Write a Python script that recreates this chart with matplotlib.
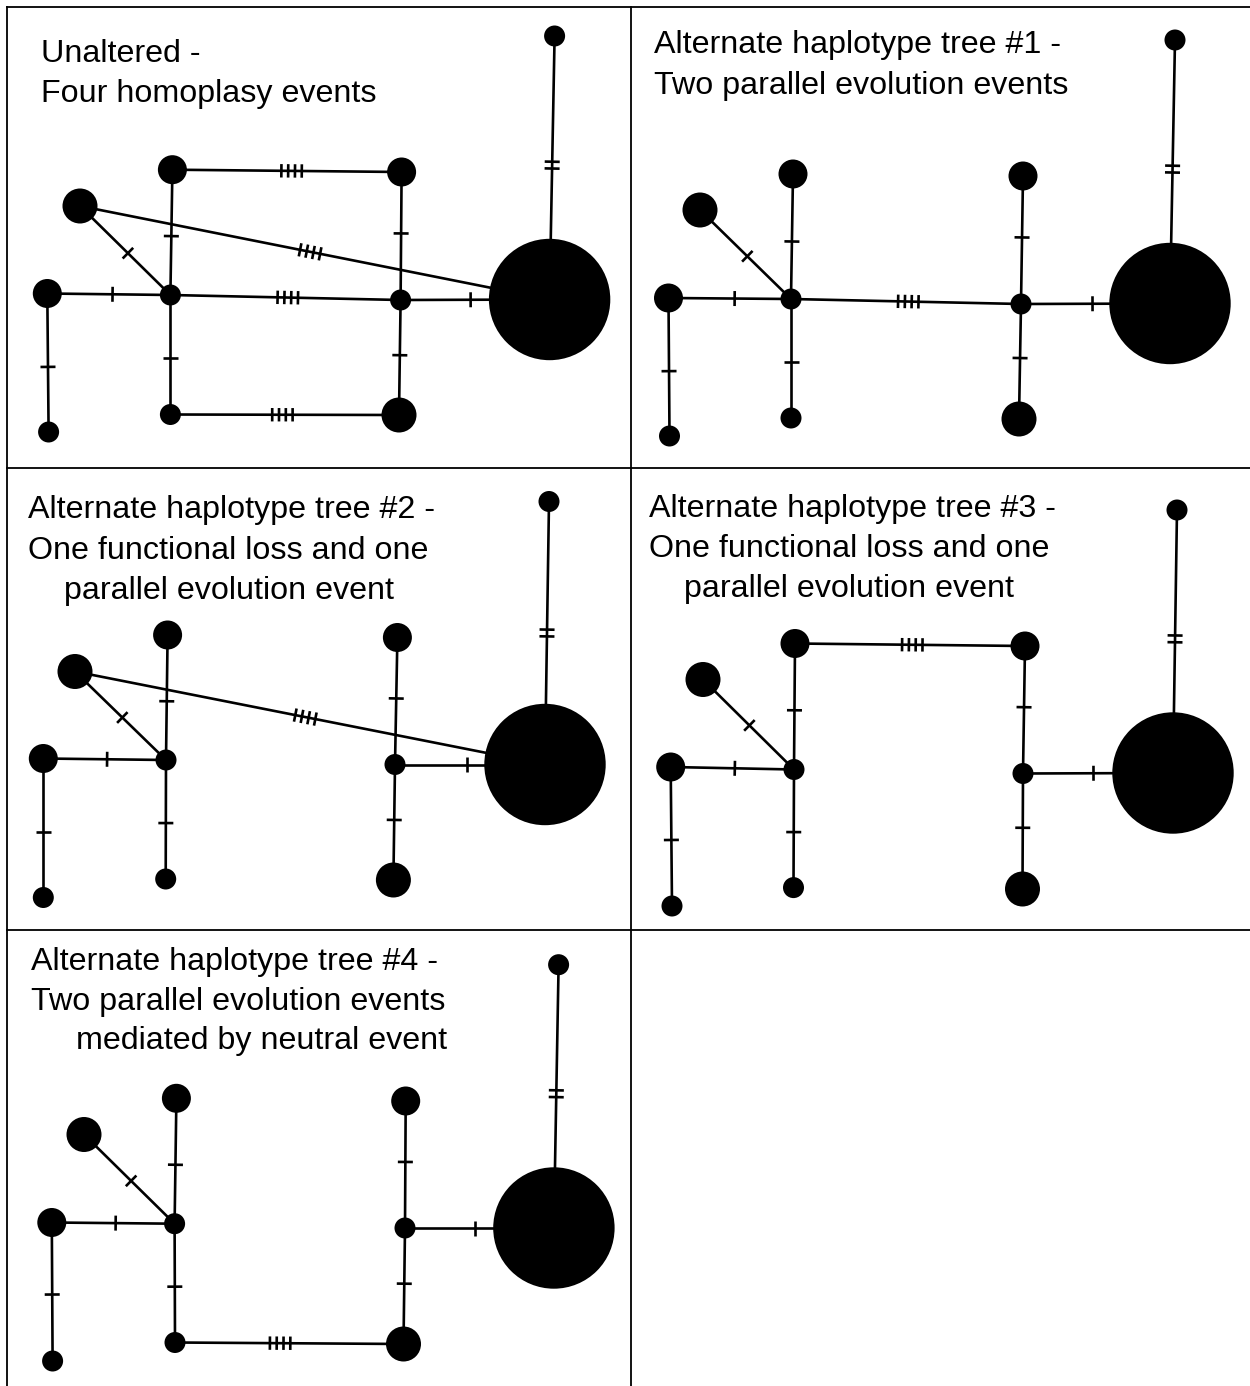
"""Five haplotype networks drawn in a table of panels (pixel coordinates)."""
import numpy as np
import matplotlib
matplotlib.use('Agg')
import matplotlib.pyplot as plt
from matplotlib.patches import Circle

##########################
##  Data                ##
##########################
# node radii (px), same in every panel
NODE_RADIUS = {'top': 10.5, 'big': 60.7, 'A': 17.5, 'B': 14.5, 'C': 14.5,
               'D': 14.5, 'hub1': 10.5, 'hub2': 10.5, 'E': 10.5,
               'F': 10.5, 'G': 17.5}

# node centres (x, y) per panel, y measured downward
NODES_UNALTERED = {'top': (554.6, 36), 'big': (549.6, 299.5), 'A': (80, 206),
                   'B': (172.4, 169.7), 'C': (401.6, 172), 'D': (47.3, 293.5),
                   'hub1': (170.4, 295), 'hub2': (400.6, 300), 'E': (48.6, 432),
                   'F': (170.4, 414.5), 'G': (399, 415)}
NODES_ALT1 = {'top': (1175, 40), 'big': (1170, 303.5), 'A': (700, 210),
              'B': (793, 174), 'C': (1023, 176), 'D': (668.5, 298),
              'hub1': (791, 299), 'hub2': (1021, 304), 'E': (669.5, 436),
              'F': (791, 418), 'G': (1019, 419)}
NODES_ALT2 = {'top': (549, 501.5), 'big': (545, 764.5), 'A': (75, 671.5),
              'B': (167.6, 635), 'C': (397.4, 637.5), 'D': (43.3, 758.5),
              'hub1': (166, 760), 'hub2': (395, 764.5), 'E': (43.3, 897.5),
              'F': (165.7, 879), 'G': (393.4, 880)}
NODES_ALT3 = {'top': (1177, 510), 'big': (1173, 773), 'A': (703, 679.5),
              'B': (795, 643.5), 'C': (1025, 646), 'D': (670.7, 767),
              'hub1': (794, 769.5), 'hub2': (1023, 773.5), 'E': (672, 906),
              'F': (793.5, 887.6), 'G': (1022.5, 889)}
NODES_ALT4 = {'top': (558.6, 964.7), 'big': (553.9, 1228), 'A': (84, 1134.5),
              'B': (176.4, 1098.3), 'C': (405.7, 1101), 'D': (51.8, 1222.5),
              'hub1': (174.6, 1223.7), 'hub2': (405, 1228), 'E': (52.6, 1361),
              'F': (175, 1342.5), 'G': (403.5, 1344)}

# edges: (from, to, number of mutation ticks, tick position along edge)
EDGES_UNALTERED = [('top', 'big', 2, 0.49), ('B', 'C', 4, 0.52),
                   ('A', 'big', 4, 0.49), ('A', 'hub1', 1, 0.53),
                   ('D', 'hub1', 1, 0.53), ('hub1', 'hub2', 4, 0.51),
                   ('hub2', 'big', 1, 0.47), ('B', 'hub1', 1, 0.53),
                   ('C', 'hub2', 1, 0.48), ('hub1', 'F', 1, 0.53),
                   ('hub2', 'G', 1, 0.48), ('D', 'E', 1, 0.53),
                   ('F', 'G', 4, 0.49)]
EDGES_ALT1 = [('top', 'big', 2, 0.49), ('A', 'hub1', 1, 0.52),
              ('D', 'hub1', 1, 0.54), ('B', 'hub1', 1, 0.54),
              ('hub1', 'F', 1, 0.53), ('hub1', 'hub2', 4, 0.51),
              ('C', 'hub2', 1, 0.48), ('hub2', 'G', 1, 0.47),
              ('hub2', 'big', 1, 0.48), ('D', 'E', 1, 0.53)]
EDGES_ALT2 = [('top', 'big', 2, 0.50), ('A', 'big', 4, 0.49),
              ('A', 'hub1', 1, 0.52), ('D', 'hub1', 1, 0.52),
              ('B', 'hub1', 1, 0.53), ('hub1', 'F', 1, 0.53),
              ('C', 'hub2', 1, 0.48), ('hub2', 'G', 1, 0.48),
              ('hub2', 'big', 1, 0.48), ('D', 'E', 1, 0.53)]
EDGES_ALT3 = [('top', 'big', 2, 0.49), ('B', 'C', 4, 0.51),
              ('A', 'hub1', 1, 0.51), ('D', 'hub1', 1, 0.52),
              ('B', 'hub1', 1, 0.53), ('hub1', 'F', 1, 0.53),
              ('C', 'hub2', 1, 0.48), ('hub2', 'G', 1, 0.47),
              ('hub2', 'big', 1, 0.47), ('D', 'E', 1, 0.525)]
EDGES_ALT4 = [('top', 'big', 2, 0.49), ('F', 'G', 4, 0.46),
              ('A', 'hub1', 1, 0.52), ('D', 'hub1', 1, 0.52),
              ('B', 'hub1', 1, 0.53), ('hub1', 'F', 1, 0.53),
              ('C', 'hub2', 1, 0.48), ('hub2', 'G', 1, 0.48),
              ('hub2', 'big', 1, 0.47), ('D', 'E', 1, 0.52)]

# panel captions: list of (x, baseline y, text)
TEXT_UNALTERED = [(41, 62, 'Unaltered -'), (41, 102, 'Four homoplasy events')]
TEXT_ALT1 = [(654, 53, 'Alternate haplotype tree #1 -'),
             (654, 94, 'Two parallel evolution events')]
TEXT_ALT2 = [(28, 518, 'Alternate haplotype tree #2 -'),
             (28, 559, 'One functional loss and one'),
             (64, 599, 'parallel evolution event')]
TEXT_ALT3 = [(649, 517, 'Alternate haplotype tree #3 -'),
             (649, 557, 'One functional loss and one'),
             (684, 597, 'parallel evolution event')]
TEXT_ALT4 = [(31, 970, 'Alternate haplotype tree #4 -'),
             (31, 1010, 'Two parallel evolution events'),
             (76, 1049, 'mediated by neutral event')]

PANELS = [(NODES_UNALTERED, EDGES_UNALTERED, TEXT_UNALTERED),
          (NODES_ALT1, EDGES_ALT1, TEXT_ALT1),
          (NODES_ALT2, EDGES_ALT2, TEXT_ALT2),
          (NODES_ALT3, EDGES_ALT3, TEXT_ALT3),
          (NODES_ALT4, EDGES_ALT4, TEXT_ALT4)]

# table rules
H_RULES = [(7, 7, 1250), (468, 7, 1250), (930, 7, 1250)]   # (y, x0, x1)
V_RULES = [(7, 7, 1386), (631, 7, 1386)]                   # (x, y0, y1)

LW = 1.9
TICK_LEN = 15.0
TICK_GAP = 6.8
FONT = 'Liberation Sans'


##########################
##  Helpers             ##
##########################
def draw_edge(ax, p0, p1, n_ticks, t):
    p0 = np.asarray(p0, dtype=float)
    p1 = np.asarray(p1, dtype=float)
    ax.plot([p0[0], p1[0]], [p0[1], p1[1]], '-', color='black',
            linewidth=LW, solid_capstyle='butt', zorder=2)
    d = p1 - p0
    d = d / np.hypot(*d)
    n = np.array([-d[1], d[0]])
    centre = p0 + t * (p1 - p0)
    offsets = (np.arange(n_ticks) - (n_ticks - 1) / 2.0) * TICK_GAP
    half = TICK_LEN / 2.0 if n_ticks < 4 else TICK_LEN / 2.0 - 0.8
    for off in offsets:
        c = centre + off * d
        a = c - half * n
        b = c + half * n
        ax.plot([a[0], b[0]], [a[1], b[1]], '-', color='black',
                linewidth=LW, solid_capstyle='butt', zorder=2)


def draw_panel(ax, nodes, edges, texts):
    for n0, n1, k, t in edges:
        draw_edge(ax, nodes[n0], nodes[n1], k, t)
    for name, (x, y) in nodes.items():
        ax.add_patch(Circle((x, y), NODE_RADIUS[name], facecolor='black',
                            edgecolor='none', zorder=3))
    for x, y, s in texts:
        ax.text(x, y, s, fontsize=23.2, family=FONT, color='black',
                ha='left', va='baseline')


##########################
##  Main                ##
##########################
fig = plt.figure(figsize=(12.5, 13.86), dpi=100)
ax = fig.add_axes([0, 0, 1, 1])
ax.set_xlim(0, 1250)
ax.set_ylim(1386, 0)
ax.axis('off')

for y, x0, x1 in H_RULES:
    ax.plot([x0, x1], [y, y], '-', color='black', linewidth=1.3, zorder=1)
for x, y0, y1 in V_RULES:
    ax.plot([x, x], [y0, y1], '-', color='black', linewidth=1.3, zorder=1)

for nodes, edges, texts in PANELS:
    draw_panel(ax, nodes, edges, texts)

fig.savefig('out.png', dpi=100, facecolor='white')
